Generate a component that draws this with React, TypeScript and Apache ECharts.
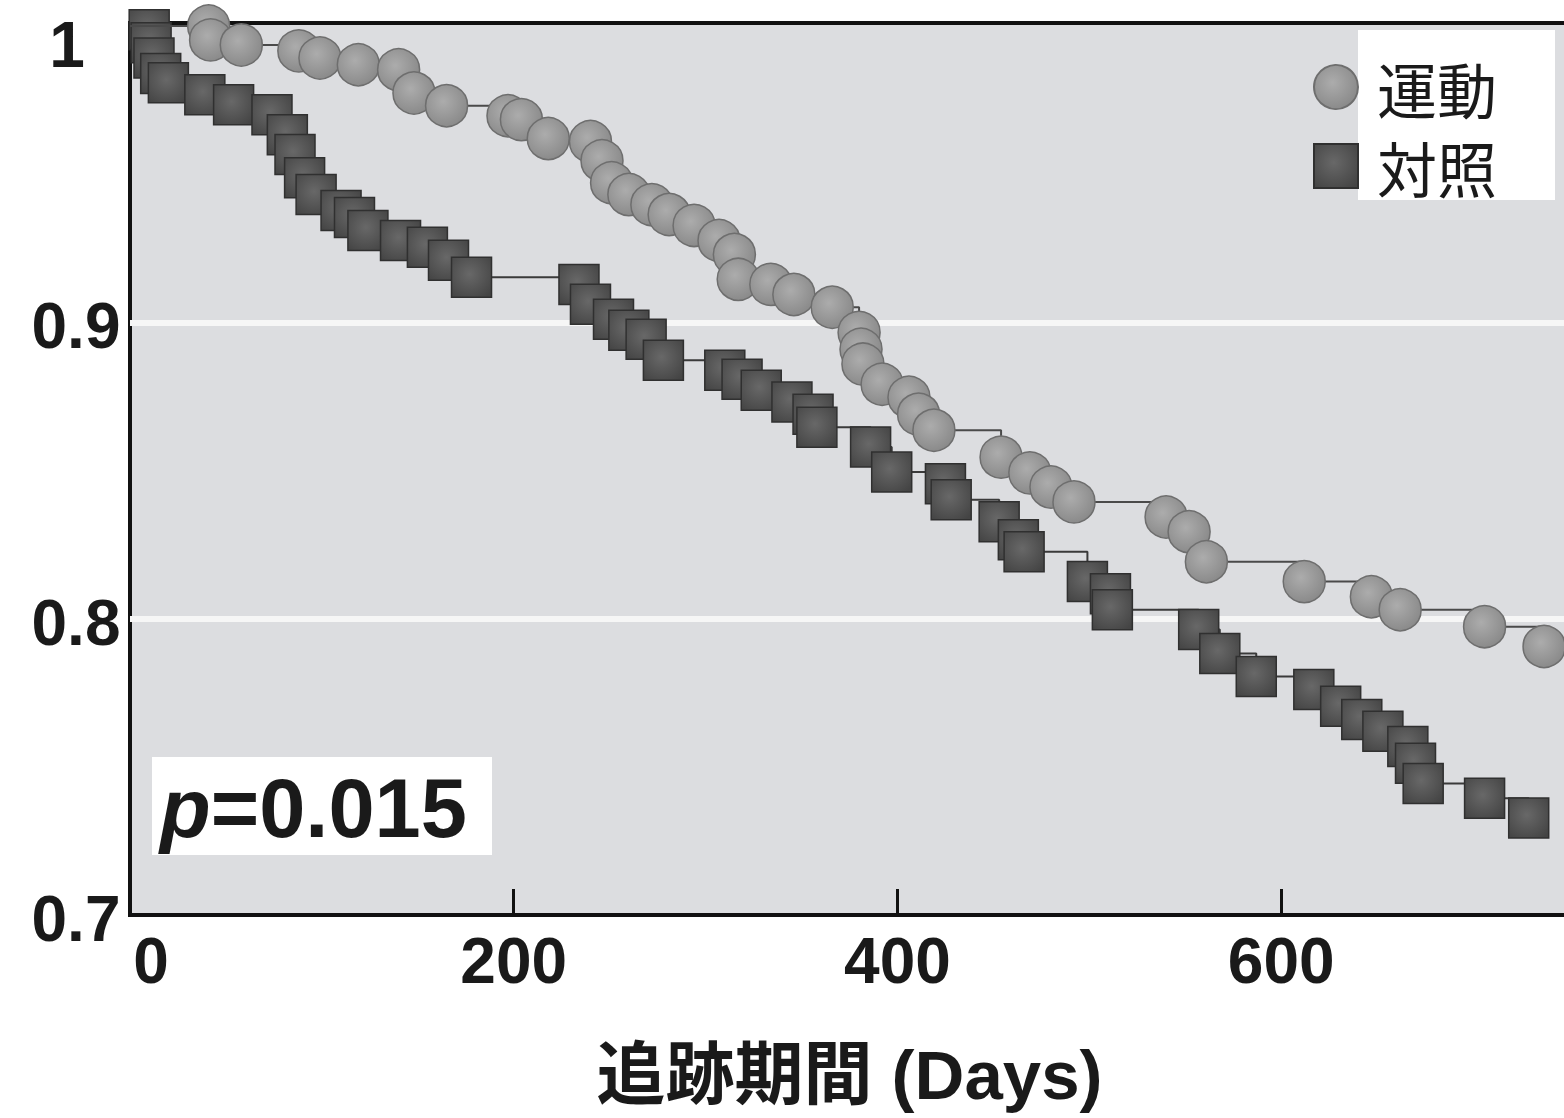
import React, { useEffect, useRef } from "react";
import * as echarts from "echarts";

// 運動 (exercise) group: follow-up day and survival at each marker
const exDays = [0, 41, 42, 58, 88, 99, 119, 140, 148, 165, 197, 204, 218, 240, 246, 251, 260, 272, 281, 294, 307, 315, 317, 334, 346, 366, 380, 381, 382, 392, 406, 411, 419, 454, 469, 480, 492, 540, 552, 561, 612, 647, 662, 706, 737];
const exSurv = [1.0, 1.0, 0.9953, 0.9936, 0.9916, 0.9892, 0.9869, 0.9852, 0.9774, 0.9731, 0.9697, 0.9684, 0.962, 0.961, 0.9545, 0.9471, 0.9431, 0.9397, 0.9364, 0.9327, 0.9276, 0.9229, 0.9145, 0.9128, 0.9094, 0.9051, 0.8966, 0.8909, 0.8859, 0.8791, 0.8747, 0.869, 0.8636, 0.8545, 0.8492, 0.8444, 0.8394, 0.8343, 0.8293, 0.8192, 0.8125, 0.8074, 0.803, 0.7973, 0.7906];

// 対照 (control) group
const ctDays = [0, 10, 11, 12.5, 16, 20, 39, 54, 74, 82, 86, 91, 97, 110, 117, 124, 141, 155, 166, 178, 234, 240, 252, 260, 269, 278, 310, 319, 329, 345, 356, 358, 386, 397, 425, 428, 453, 463, 466, 499, 511, 512, 557, 568, 587, 617, 631, 642, 653, 666, 670, 674, 706, 729];
const ctSurv = [1.0, 0.9987, 0.9943, 0.9892, 0.984, 0.9808, 0.9768, 0.9734, 0.97, 0.9633, 0.9566, 0.9488, 0.9431, 0.9377, 0.9354, 0.931, 0.9276, 0.9253, 0.9209, 0.9152, 0.9128, 0.9061, 0.901, 0.8973, 0.8943, 0.8872, 0.8838, 0.8808, 0.8771, 0.8731, 0.869, 0.8646, 0.8579, 0.8495, 0.8455, 0.8401, 0.8327, 0.8266, 0.8226, 0.8125, 0.8084, 0.803, 0.7963, 0.7882, 0.7805, 0.7761, 0.7704, 0.766, 0.762, 0.7569, 0.7512, 0.7444, 0.7394, 0.7327];

const seriesNames = ["運動", "対照"];
const gridLineValues = [0.9, 0.8];
const pValueText = "=0.015";
const xAxisTitle = "追跡期間 (Days)";

function toData(days: number[], surv: number[]) {
  return days.map((d, i) =>
    i === 0 ? { value: [d, surv[i]], symbol: "none" } : { value: [d, surv[i]] }
  );
}

export default function App() {
  const ref = useRef<HTMLDivElement>(null);

  useEffect(() => {
    if (!ref.current) return;
    const chart = echarts.init(ref.current, null, { renderer: "svg" });

    const circleFill = new echarts.graphic.RadialGradient(0.42, 0.4, 0.65, [
      { offset: 0, color: "#acacac" },
      { offset: 1, color: "#888888" },
    ]);
    const squareFill = new echarts.graphic.RadialGradient(0.45, 0.42, 0.7, [
      { offset: 0, color: "#686868" },
      { offset: 1, color: "#444444" },
    ]);

    const labelFont = {
      fontFamily: "'Liberation Sans', Arial, sans-serif",
      fontWeight: "bold" as const,
      fontSize: 64,
      color: "#1a1a1a",
    };

    chart.setOption({
      animation: false,
      backgroundColor: "#ffffff",
      grid: {
        left: 130,
        right: -5,
        top: 23,
        bottom: 203,
        outerBoundsMode: "none",
        containLabel: false,
        show: true,
        backgroundColor: "#dcdde0",
        borderColor: "#111",
        borderWidth: 4,
      },
      xAxis: {
        type: "value",
        min: 0,
        max: 750,
        interval: 200,
        name: xAxisTitle,
        nameLocation: "middle",
        nameGap: 126,
        nameTextStyle: {
          fontFamily: "'Liberation Sans', 'Noto Sans CJK JP', sans-serif",
          fontWeight: "bold",
          fontSize: 69,
          color: "#1a1a1a",
        },
        axisLine: { show: true, onZero: false, lineStyle: { color: "#111", width: 4 } },
        axisTick: { show: true, inside: true, length: 26, lineStyle: { color: "#111", width: 3 } },
        splitLine: { show: false },
        axisLabel: {
          ...labelFont,
          margin: 14,
          showMaxLabel: false,
          formatter: (v: number) => (v === 0 ? "{z|0}" : v % 200 === 0 ? String(v) : ""),
          rich: {
            z: { ...labelFont, padding: [0, 0, 0, 42] },
          },
        },
      },
      yAxis: {
        type: "value",
        min: 0.7,
        max: 1.001,
        interval: 0.1,
        axisLine: { show: true, onZero: false, lineStyle: { color: "#111", width: 4 } },
        axisTick: { show: true, inside: true, length: 26, lineStyle: { color: "#111", width: 3 } },
        splitLine: { show: false },
        axisLabel: {
          ...labelFont,
          align: "center",
          margin: 54,
          padding: [8, 0, 0, 0],
          formatter: (v: number) => {
            const s = String(+v.toFixed(1));
            return s === "1" ? "{t|1}" : s;
          },
          rich: {
            t: { ...labelFont, padding: [30, 18, 0, 0] },
          },
        },
      },
      legend: {
        orient: "vertical",
        left: 1308,
        top: 52,
        itemWidth: 44,
        itemHeight: 44,
        itemGap: 19,
        textStyle: {
          fontFamily: "'Noto Sans CJK JP', sans-serif",
          fontSize: 60,
          lineHeight: 60,
          color: "#1a1a1a",
          padding: [0, 0, 0, 14],
        },
        data: [
          { name: seriesNames[0], icon: "circle" },
          { name: seriesNames[1], icon: "rect" },
        ],
      },
      graphic: [
        {
          type: "rect",
          z: 3,
          shape: { x: 1358, y: 30, width: 197, height: 170 },
          style: { fill: "#ffffff" },
        },
        {
          type: "rect",
          z: 3,
          shape: { x: 152, y: 757, width: 340, height: 98 },
          style: { fill: "#ffffff" },
        },
        {
          type: "text",
          z: 4,
          x: 160,
          y: 808,
          style: {
            text: "{i|p}{n|" + pValueText + "}",
            verticalAlign: "middle",
            rich: {
              i: {
                fontFamily: "'Liberation Sans', Arial, sans-serif",
                fontWeight: "bold",
                fontStyle: "italic",
                fontSize: 83,
                fill: "#1a1a1a",
              },
              n: {
                fontFamily: "'Liberation Sans', Arial, sans-serif",
                fontWeight: "bold",
                fontSize: 83,
                fill: "#1a1a1a",
              },
            },
          },
        },
      ],
      series: [
        {
          name: seriesNames[1],
          type: "line",
          step: "end",
          data: toData(ctDays, ctSurv),
          symbol: "rect",
          symbolSize: 40,
          lineStyle: { color: "#3a3a3a", width: 2 },
          itemStyle: { color: squareFill, borderColor: "#303030", borderWidth: 1.5 },
          z: 2,
        },
        {
          name: seriesNames[0],
          type: "line",
          step: "end",
          data: toData(exDays, exSurv),
          symbol: "circle",
          symbolSize: 42,
          lineStyle: { color: "#4a4a4a", width: 2 },
          itemStyle: { color: circleFill, borderColor: "#6e6e6e", borderWidth: 1.5 },
          markLine: {
            silent: true,
            symbol: "none",
            label: { show: false },
            lineStyle: { color: "#f6f6f6", width: 6, type: "solid" },
            data: gridLineValues.map((v) => ({ yAxis: v })),
            z: 1,
          },
          z: 3,
        },
      ],
    });

    return () => chart.dispose();
  }, []);

  return (
    <div
      ref={ref}
      style={{ position: "absolute", left: 0, top: 0, width: 1564, height: 1118 }}
    />
  );
}
